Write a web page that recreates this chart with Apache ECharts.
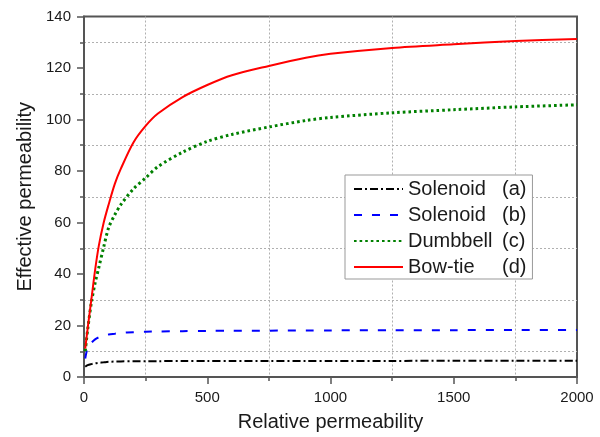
<!DOCTYPE html>
<html>
<head>
<meta charset="utf-8">
<script src="https://cdn.jsdelivr.net/npm/echarts@6/dist/echarts.min.js"></script>
<style>
  html, body { margin: 0; padding: 0; background: #fff; }
  #chart { width: 600px; height: 437px; }
</style>
</head>
<body>
<div id="chart"></div>
<script>
// Relative permeability of the core (x) and effective permeability of each coil shape
var relPerm = [5, 15, 30, 45, 60, 80, 100, 125, 150, 200, 250, 300, 400, 500, 600, 750, 900, 1000, 1250, 1500, 1750, 2000];
var solenoidA = [4.0, 4.6, 5.0, 5.3, 5.5, 5.7, 5.9, 6.0, 6.05, 6.1, 6.1, 6.15, 6.2, 6.2, 6.2, 6.2, 6.25, 6.25, 6.25, 6.3, 6.3, 6.3];
var solenoidB = [7.2, 11.3, 13.3, 14.6, 15.4, 16.0, 16.5, 16.8, 17.1, 17.4, 17.6, 17.7, 17.8, 17.9, 17.95, 18.0, 18.05, 18.1, 18.15, 18.2, 18.25, 18.3];
var dumbbell = [10, 18.5, 29, 36.5, 42.5, 50.5, 58, 63, 67, 73, 77.3, 81.7, 87.3, 91.5, 94.2, 97.1, 99.6, 100.8, 102.6, 103.8, 104.9, 105.7];
var bowTie = [11, 19, 30.2, 41.5, 50.9, 60, 67, 75, 81, 91, 97.5, 102.3, 108.7, 113.4, 117.2, 120.8, 124, 125.5, 127.8, 129.2, 130.5, 131.3];

var seriesNames = ['Solenoid', 'Solenoid', 'Dumbbell', 'Bow-tie'];
var seriesTags = ['(a)', '(b)', '(c)', '(d)'];

var FONT = '"Liberation Sans", Arial, sans-serif';
var TEXT = '#1a1a1a';
var AXIS = '#555555';
var GRID = '#b0b0b0';

function pairs(ys) {
  return relPerm.map(function (x, i) { return [x, ys[i]]; });
}

var legendKeys = seriesNames.map(function (n, i) { return n + ' ' + seriesTags[i]; });
var lineStyles = [
  { color: '#000000', width: 2, type: [8, 3, 2, 3] },
  { color: '#0000ff', width: 2, type: [8, 10] },
  { color: '#008000', width: 3, type: [2.6, 3] },
  { color: '#ff0000', width: 2, type: 'solid' }
];
var values = [solenoidA, solenoidB, dumbbell, bowTie];

var series = values.map(function (ys, i) {
  return {
    name: legendKeys[i],
    type: 'line',
    data: pairs(ys),
    smooth: 0.3,
    symbol: 'none',
    color: lineStyles[i].color,
    lineStyle: lineStyles[i],
    z: 3 + i
  };
});

function axisCommon() {
  return {
    type: 'value',
    axisLine: { show: true, lineStyle: { color: AXIS, width: 2 } },
    axisTick: { show: true, inside: false, length: 7, lineStyle: { color: AXIS, width: 1.5 } },
    minorTick: { show: true, splitNumber: 2, length: 4, lineStyle: { color: AXIS, width: 1.5 } },
    splitLine: { show: false },
    minorSplitLine: { show: true, lineStyle: { color: GRID, width: 1, type: [2, 2] } },
    axisLabel: {
      color: TEXT, fontSize: 15, fontFamily: FONT,
      formatter: function (v) { return String(v); }
    },
    nameTextStyle: { color: TEXT, fontSize: 20, fontFamily: FONT },
    nameLocation: 'middle'
  };
}

var xAxis = axisCommon();
xAxis.min = 0; xAxis.max = 2000; xAxis.interval = 500;
xAxis.name = 'Relative permeability';
xAxis.nameGap = 35;
xAxis.axisLabel.margin = 13;

var yAxis = axisCommon();
yAxis.min = 0; yAxis.max = 140; yAxis.interval = 20;
yAxis.name = 'Effective permeability';
yAxis.nameGap = 40;
yAxis.axisLabel.margin = 13;

var chart = echarts.init(document.getElementById('chart'), null, { renderer: 'canvas' });
chart.setOption({
  animation: false,
  backgroundColor: '#ffffff',
  grid: {
    left: 84, right: 23, top: 16.5, bottom: 59,
    show: true, borderColor: AXIS, borderWidth: 2, backgroundColor: 'transparent'
  },
  xAxis: xAxis,
  yAxis: yAxis,
  legend: {
    data: legendKeys,
    orient: 'vertical',
    left: 345, top: 175,
    itemWidth: 49, itemHeight: 14, itemGap: 6,
    itemStyle: { opacity: 0 },
    padding: [4, 6, 2, 8],
    backgroundColor: '#ffffff',
    borderColor: '#999999', borderWidth: 1,
    formatter: function (name) {
      var i = legendKeys.indexOf(name);
      return '{n|' + seriesNames[i] + '}{s|' + seriesTags[i] + '}';
    },
    textStyle: {
      color: TEXT, fontSize: 20, fontFamily: FONT,
      rich: {
        n: { width: 94, fontSize: 20, fontFamily: FONT, color: TEXT },
        s: { fontSize: 20, fontFamily: FONT, color: TEXT }
      }
    }
  },
  series: series
});
</script>
</body>
</html>
